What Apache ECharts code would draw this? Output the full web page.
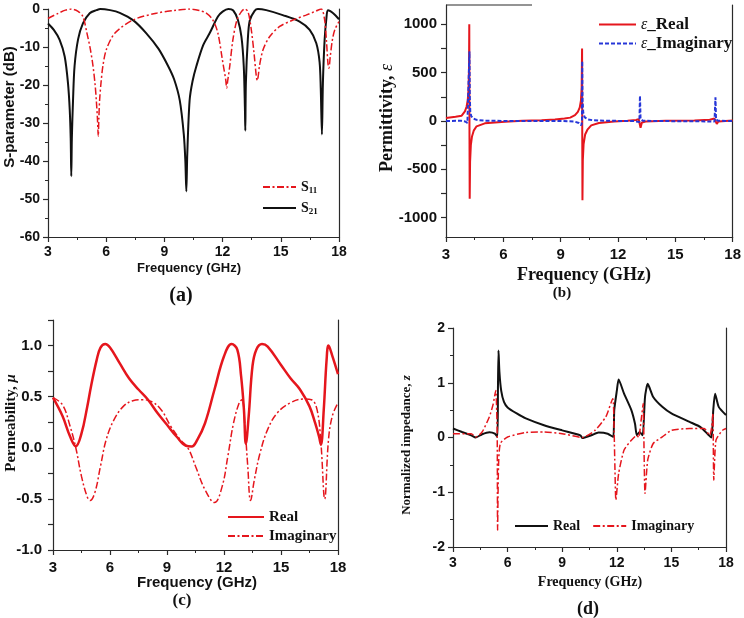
<!DOCTYPE html>
<html>
<head>
<meta charset="utf-8">
<script src="https://cdn.jsdelivr.net/npm/echarts@6/dist/echarts.min.js"></script>
<style>html,body{margin:0;padding:0;background:#fff;}#main{width:744px;height:618px;}</style>
</head>
<body>
<div id="main"></div>
<script>
// ---------- data ----------
// (a) S-parameters (dB)
const s21Freq = [3.0,3.3,3.6,3.86,4.03,4.12,4.17,4.2,4.23,4.29,4.37,4.55,4.8,5.15,5.5,5.7,6.2,6.7,7.4,8.07,8.7,9.19,9.5,9.79,10.0,10.08,10.13,10.18,10.3,10.45,10.65,11.0,11.33,11.76,12.0,12.3,12.55,12.79,12.97,13.09,13.15,13.17,13.2,13.3,13.4,13.65,13.82,14.25,15.1,15.97,16.49,16.83,17.0,17.06,17.12,17.17,17.26,17.35,17.43,17.7,18.0];
const s21Val  = [-3.8,-5.5,-8.1,-12.5,-19.5,-26.5,-34,-44,-34,-24,-15,-8,-3.8,-1.1,-0.3,0,-0.3,-1.0,-3.0,-6.4,-10.5,-15,-18.5,-24,-33,-40,-48,-38,-24,-19,-15,-9.5,-6.4,-2,-0.7,0,-0.4,-2.9,-7.3,-15,-26,-32,-19.5,-8,-3,-0.5,0,-0.3,-1.6,-3.3,-5.5,-9,-14,-21,-33,-19.5,-8,-2.5,-0.3,-1.1,-2.7];
const s11Freq = [3.0,3.5,3.9,4.2,4.55,4.8,5.01,5.18,5.32,5.43,5.49,5.55,5.59,5.62,5.66,5.74,5.83,6.0,6.44,7.38,8.58,9.5,10.3,10.8,11.16,11.5,11.76,11.99,12.16,12.21,12.26,12.37,12.53,12.74,12.97,13.14,13.31,13.48,13.62,13.74,13.79,13.84,13.9,14.08,14.42,14.94,15.63,16.3,16.83,17.09,17.26,17.35,17.43,17.48,17.55,17.66,17.78,18.0];
const s11Val  = [-2.5,-1.2,-0.3,0,-0.6,-2,-6.4,-10.5,-15,-20,-24,-29,-33.5,-29,-24,-19,-15,-10.8,-6.4,-2.9,-1.1,-0.4,0,-0.4,-1.1,-2.9,-6.4,-13.4,-18.6,-20.8,-19,-15,-8.1,-2.9,-0.7,0,-0.7,-5.5,-11.6,-17.8,-18.8,-17.5,-15,-10.8,-7.3,-4.6,-2.9,-1.6,-0.5,0,-2.9,-8.1,-14.3,-15.6,-12.5,-8.1,-5.5,-3.3];

// (b) permittivity
const epsReFreq = [3.0,3.5,3.82,3.99,4.08,4.14,4.18,4.205,4.218,4.23,4.24,4.26,4.3,4.36,4.45,4.6,5.03,6.08,7.0,8.0,8.7,9.2,9.5,9.75,9.9,10.0,10.06,10.1,10.12,10.13,10.14,10.16,10.2,10.28,10.4,10.6,11.0,11.8,12.5,12.95,13.08,13.13,13.15,13.18,13.25,13.45,14.5,16.0,16.8,17.05,17.1,17.13,17.17,17.25,18.0];
const epsReVal  = [30,45,55,100,150,220,330,550,1000,-200,-805,-420,-250,-160,-100,-55,-24,-7,2,8,15,25,35,60,95,140,210,350,750,-150,-820,-400,-240,-140,-90,-45,-20,-5,3,10,20,30,15,-70,-15,-5,3,5,12,25,40,10,-30,-5,5];
const epsImFreq = [3.0,3.8,4.0,4.12,4.2,4.215,4.228,4.245,4.27,4.32,4.42,4.6,5.0,6.0,9.0,9.7,9.95,10.08,10.115,10.128,10.145,10.18,10.25,10.4,10.7,11.5,12.8,13.12,13.15,13.18,13.3,14.0,17.05,17.1,17.13,17.25,18.0];
const epsImVal  = [0,2,-5,-20,-35,-10,720,250,100,50,25,12,4,1,0,-5,-20,-45,-10,620,220,90,40,18,7,2,0,-10,260,20,3,0,-5,245,15,2,0];

// (c) permeability
const muReFreq = [3.0,3.5,3.9,4.2,4.5,4.8,5.0,5.3,5.5,5.75,6.0,6.5,7.0,7.5,8.0,8.5,9.0,9.5,10.0,10.3,10.6,11.0,11.5,12.0,12.4,12.7,12.9,13.05,13.15,13.3,13.5,13.7,14.0,14.3,15.0,15.5,16.0,16.5,16.8,17.0,17.1,17.25,17.4,17.5,17.7,18.0];
const muReVal  = [0.49,0.31,0.11,0.015,0.14,0.4,0.6,0.86,0.98,1.015,0.98,0.83,0.68,0.57,0.47,0.34,0.225,0.11,0.02,0.013,0.08,0.24,0.57,0.895,1.015,0.96,0.7,0.37,0.04,0.31,0.8,0.96,1.015,0.99,0.81,0.68,0.57,0.405,0.24,0.11,0.03,0.37,0.86,1.0,0.9,0.72];
const muImFreq = [3.0,3.5,3.9,4.2,4.5,4.8,4.95,5.2,5.5,5.8,6.2,6.7,7.2,7.7,8.2,8.7,9.2,9.7,10.1,10.5,11.0,11.5,11.9,12.2,12.5,12.8,12.95,13.1,13.25,13.4,13.6,13.9,14.3,14.8,15.5,16.2,16.6,16.9,17.1,17.3,17.5,17.7,18.0];
const muImVal  = [0.49,0.42,0.21,0,-0.28,-0.48,-0.516,-0.44,-0.18,0.08,0.27,0.405,0.46,0.47,0.45,0.37,0.21,0.08,0,-0.18,-0.41,-0.536,-0.38,-0.085,0.24,0.44,0.47,0.21,-0.18,-0.516,-0.31,-0.05,0.18,0.34,0.44,0.477,0.47,0.37,0.05,-0.5,0.08,0.31,0.44];

// (d) normalized impedance
const zReFreq = [3.0,3.5,4.0,4.25,4.6,5.0,5.3,5.44,5.47,5.5,5.55,5.65,5.8,6.0,6.5,7.0,8.0,9.0,10.0,10.1,10.6,11.0,11.5,11.8,11.86,12.0,12.1,12.4,12.8,13.0,13.1,13.25,13.42,13.55,13.7,14.0,14.5,15.0,16.0,16.6,17.0,17.2,17.3,17.4,17.6,18.0];
const zReVal  = [0.164,0.1,0.04,0,0.06,0.097,0.07,0.01,0.9,1.59,1.2,0.85,0.65,0.55,0.44,0.35,0.225,0.13,0.04,-0.01,0.04,0.09,0.07,0.01,0.5,0.85,1.06,0.8,0.5,0.25,0.04,0.1,0.04,0.74,0.98,0.74,0.56,0.44,0.285,0.19,0.06,0.0,0.5,0.8,0.56,0.41];
const zImFreq = [3.0,4.0,4.25,4.6,5.0,5.2,5.35,5.4,5.43,5.45,5.5,5.6,6.0,7.0,8.0,9.0,10.1,10.8,11.4,11.78,11.84,11.9,11.95,12.1,12.4,12.8,13.1,13.2,13.35,13.45,13.5,13.55,13.7,14.0,14.5,15.0,16.0,16.8,17.1,17.22,17.28,17.33,17.45,17.8,18.0];
const zImVal  = [0.07,0.07,0.01,0.1,0.38,0.6,0.86,0.5,0.07,-1.69,-0.53,-0.11,0.01,0.09,0.1,0.07,0,0.13,0.38,0.71,0.3,-0.6,-1.14,-0.66,-0.23,-0.05,0.04,0,0.35,0.62,-0.3,-1.02,-0.41,-0.11,0.01,0.13,0.164,0.164,0.04,0.2,0.44,-0.78,-0.05,0.13,0.164];

// tick label lists
const xTicks = [3,6,9,12,15,18];
const epsLabelTicks = [-1000,-500,0,500,1000];
const epsTickMarks = [-1000,-750,-500,-250,0,250,500,750,1000];
const muLabelTicks = [-1,-0.5,0,0.5,1];
const muTickMarks = [-1,-0.75,-0.5,-0.25,0,0.25,0.5,0.75,1,1.25];

// ---------- helpers ----------
const SANS = '"Liberation Sans", Arial, sans-serif';
const SERIF = '"Liberation Serif", "Times New Roman", serif';
const AX = '#2a2a2a';
const RED = '#e5161d';
const BLUE = '#2636d8';
const DASHDOT = [7,2.5,2,2.5];
const zip = (a,b) => a.map((v,i)=>[v,b[i]]);

function xAxisCfg(gi, margin, fs) {
  return {
    type:'value', gridIndex:gi, min:3, max:18, interval:3,
    axisLine:{show:true, onZero:false, lineStyle:{color:AX,width:1.2}},
    axisTick:{show:true, length:5, lineStyle:{color:AX,width:1.2}},
    minorTick:{show:true, splitNumber:2, length:3, lineStyle:{color:AX,width:1}},
    splitLine:{show:false},
    axisLabel:{margin:margin, fontSize:fs, fontWeight:'bold', fontFamily:SANS, color:'#111'}
  };
}
function yBase(gi, margin, fs) {
  return {
    type:'value', gridIndex:gi,
    axisLine:{show:true, onZero:false, lineStyle:{color:AX,width:1.2}},
    axisTick:{show:true, length:5, lineStyle:{color:AX,width:1.2}},
    splitLine:{show:false},
    axisLabel:{margin:margin, fontSize:fs, fontWeight:'bold', fontFamily:SANS, color:'#111'}
  };
}
function rightBorder(gi) {
  return {type:'value', gridIndex:gi, position:'right', min:0, max:1,
    axisLine:{show:true, onZero:false, lineStyle:{color:AX,width:1.2}},
    axisTick:{show:false}, axisLabel:{show:false}, splitLine:{show:false}};
}
function txt(x, y, text, font, rot, rich) {
  const t = {type:'text', x:x, y:y, rotation:rot||0, silent:true,
    style:{text:text, font:font, fill:'#111', align:'center', verticalAlign:'middle'}};
  if (rich) t.style.rich = rich;
  return t;
}
const noSym = {opacity:0};

const chart = echarts.init(document.getElementById('main'), null, {renderer:'canvas'});

const option = {
  animation:false,
  backgroundColor:'#fff',
  grid:[
    {left:48, top:9, width:291, height:228},
    {left:446, top:5, width:288, height:232},
    {left:53, top:320, width:285, height:230},
    {left:453, top:328, width:273, height:219}
  ],
  xAxis:[ xAxisCfg(0,8,14), xAxisCfg(1,10,15), xAxisCfg(2,10,15), xAxisCfg(3,9,14) ],
  yAxis:[
    Object.assign(yBase(0,8,14), {min:-60, max:0, interval:10,
      minorTick:{show:true, splitNumber:2, length:3, lineStyle:{color:AX}}}),
    Object.assign(yBase(1,9,15), {min:-1200, max:1200,
      axisTick:{show:true, length:5, customValues:epsTickMarks, lineStyle:{color:AX,width:1.2}},
      axisLabel:{margin:9, fontSize:15, fontWeight:'bold', fontFamily:SANS, color:'#111', customValues:epsLabelTicks,
        formatter:v=>String(Math.round(v))}}),
    Object.assign(yBase(2,11,15), {min:-1, max:1.25,
      axisTick:{show:true, length:5, customValues:muTickMarks, lineStyle:{color:AX,width:1.2}},
      axisLabel:{margin:11, fontSize:15, fontWeight:'bold', fontFamily:SANS, color:'#111', customValues:muLabelTicks,
        formatter:v=>Number(v).toFixed(1)}}),
    Object.assign(yBase(3,8,14), {min:-2, max:2, interval:1,
      minorTick:{show:true, splitNumber:2, length:3, lineStyle:{color:AX}}}),
    rightBorder(0), rightBorder(1), rightBorder(2), rightBorder(3)
  ],
  legend:[
    {data:['S11','S21'], orient:'vertical', left:257, top:174, itemWidth:33, itemHeight:10, itemGap:5,
      selectedMode:false, itemStyle:noSym,
      formatter:n => n==='S11' ? '{s|S}{sub|11}' : '{s|S}{sub|21}',
      textStyle:{color:'#111', rich:{
        s:{fontFamily:SERIF, fontWeight:'bold', fontSize:14, lineHeight:16},
        sub:{fontFamily:SERIF, fontWeight:'bold', fontSize:9, lineHeight:16, padding:[7,0,0,0]}}}},
    {data:['epsRe','epsIm'], orient:'vertical', left:593, top:11, itemWidth:37, itemHeight:10, itemGap:2,
      selectedMode:false, itemStyle:noSym,
      formatter:n => n==='epsRe' ? '{i|ε}{t|_Real}' : '{i|ε}{t|_Imaginary}',
      textStyle:{color:'#111', rich:{
        i:{fontFamily:SERIF, fontStyle:'italic', fontSize:16, lineHeight:18},
        t:{fontFamily:SERIF, fontWeight:'bold', fontSize:17, lineHeight:18}}}},
    {data:['muRe','muIm'], orient:'vertical', left:222, top:504, itemWidth:36, itemHeight:10, itemGap:3,
      selectedMode:false, itemStyle:noSym,
      formatter:n => n==='muRe' ? 'Real' : 'Imaginary',
      textStyle:{color:'#111', fontFamily:SERIF, fontWeight:'bold', fontSize:15, lineHeight:16}},
    {data:['zRe','zIm'], orient:'horizontal', left:509, top:513, itemWidth:33, itemHeight:10, itemGap:12,
      selectedMode:false, itemStyle:noSym,
      formatter:n => n==='zRe' ? 'Real' : 'Imaginary',
      textStyle:{color:'#111', fontFamily:SERIF, fontWeight:'bold', fontSize:14, lineHeight:16}}
  ],
  series:[
    {name:'S21', type:'line', xAxisIndex:0, yAxisIndex:0, data:zip(s21Freq,s21Val), symbol:'none', smooth:0.3,
      lineStyle:{color:'#111', width:2}, itemStyle:{color:'#111'}},
    {name:'S11', type:'line', xAxisIndex:0, yAxisIndex:0, data:zip(s11Freq,s11Val), symbol:'none', smooth:0.3,
      lineStyle:{color:RED, width:1.5, type:DASHDOT}, itemStyle:{color:RED}},
    {name:'epsRe', type:'line', xAxisIndex:1, yAxisIndex:1, data:zip(epsReFreq,epsReVal), symbol:'none', smooth:false,
      lineStyle:{color:RED, width:2}, itemStyle:{color:RED}},
    {name:'epsIm', type:'line', xAxisIndex:1, yAxisIndex:1, data:zip(epsImFreq,epsImVal), symbol:'none', smooth:false,
      lineStyle:{color:BLUE, width:2, type:[4,2]}, itemStyle:{color:BLUE}},
    {name:'muRe', type:'line', xAxisIndex:2, yAxisIndex:2, data:zip(muReFreq,muReVal), symbol:'none', smooth:0.4,
      lineStyle:{color:RED, width:2.5}, itemStyle:{color:RED}},
    {name:'muIm', type:'line', xAxisIndex:2, yAxisIndex:2, data:zip(muImFreq,muImVal), symbol:'none', smooth:0.4,
      lineStyle:{color:RED, width:1.5, type:DASHDOT}, itemStyle:{color:RED}},
    {name:'zRe', type:'line', xAxisIndex:3, yAxisIndex:3, data:zip(zReFreq,zReVal), symbol:'none', smooth:0.2,
      lineStyle:{color:'#111', width:2}, itemStyle:{color:'#111'}},
    {name:'zIm', type:'line', xAxisIndex:3, yAxisIndex:3, data:zip(zImFreq,zImVal), symbol:'none', smooth:0.2,
      lineStyle:{color:RED, width:1.5, type:DASHDOT}, itemStyle:{color:RED}}
  ],
  graphic:[
    {type:'line', silent:true, shape:{x1:446, y1:5, x2:532, y2:5}, style:{stroke:AX, lineWidth:1.2}},
    txt(10, 107, 'S-parameter (dB)', 'bold 15px '+SANS, Math.PI/2),
    txt(189, 268, 'Frequency (GHz)', 'bold 13px '+SANS),
    txt(181, 296, '(a)', 'bold 20px '+SERIF),
    txt(387, 118, 'Permittivity, {i|ε}', 'bold 18px '+SERIF, Math.PI/2,
      {i:{fontFamily:SERIF, fontStyle:'italic', fontSize:18}}),
    txt(584, 275, 'Frequency (GHz)', 'bold 18px '+SERIF),
    txt(562, 293, '(b)', 'bold 15px '+SERIF),
    txt(11, 423, 'Permeability, {i|μ}', 'bold 15px '+SERIF, Math.PI/2,
      {i:{fontFamily:SERIF, fontStyle:'italic', fontWeight:'bold', fontSize:15}}),
    txt(197, 583, 'Frequency (GHz)', 'bold 15px '+SANS),
    txt(182, 601, '(c)', 'bold 17px '+SERIF),
    txt(407, 445, 'Normalized impedance, {i|z}', 'bold 13px '+SERIF, Math.PI/2,
      {i:{fontFamily:SERIF, fontStyle:'italic', fontWeight:'bold', fontSize:13}}),
    txt(590, 582, 'Frequency (GHz)', 'bold 14px '+SERIF),
    txt(588, 609, '(d)', 'bold 18px '+SERIF)
  ]
};
chart.setOption(option);
</script>
</body>
</html>
